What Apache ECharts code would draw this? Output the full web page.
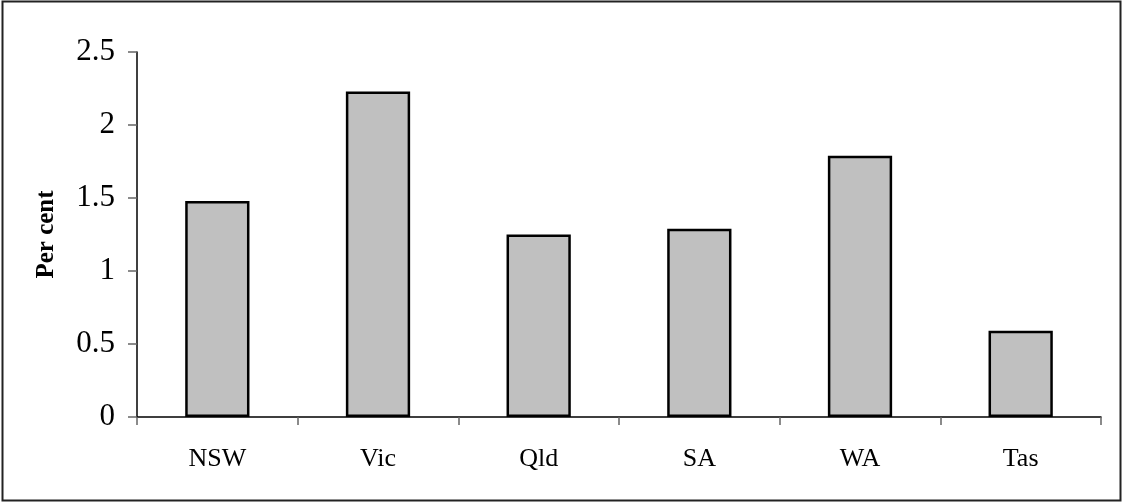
<!DOCTYPE html>
<html>
<head>
<meta charset="utf-8">
<script src="https://cdn.jsdelivr.net/npm/echarts@6/dist/echarts.min.js"></script>
<style>
  html, body { margin: 0; padding: 0; background: #fff; }
  #chart { width: 1122px; height: 502px; }
</style>
</head>
<body>
<div id="chart"></div>
<script>
// States and their per cent values
const states = ['NSW', 'Vic', 'Qld', 'SA', 'WA', 'Tas'];
const perCent = [1.48, 2.23, 1.25, 1.29, 1.79, 0.59];
const yTicks = { min: 0, max: 2.5, interval: 0.5 };

const serif = '"Liberation Serif", "Times New Roman", serif';
const chart = echarts.init(document.getElementById('chart'), null, { renderer: 'canvas' });

chart.setOption({
  animation: false,
  backgroundColor: '#ffffff',
  graphic: [{
    type: 'rect',
    silent: true,
    shape: { x: 2.5, y: 1.5, width: 1118, height: 499 },
    style: { fill: 'none', stroke: '#222', lineWidth: 2 }
  }],
  grid: { left: 137, right: 21, top: 52, bottom: 85 },
  xAxis: {
    type: 'category',
    data: states,
    axisLine: { lineStyle: { color: '#000', width: 1.5 } },
    axisTick: { show: true, length: 8, lineStyle: { color: '#666', width: 1.5 } },
    axisLabel: { color: '#000', fontFamily: serif, fontSize: 26, margin: 29 }
  },
  yAxis: {
    type: 'value',
    min: yTicks.min,
    max: yTicks.max,
    interval: yTicks.interval,
    name: 'Per cent',
    nameLocation: 'middle',
    nameGap: 78,
    nameRotate: 90,
    nameTextStyle: { color: '#000', fontFamily: serif, fontSize: 25, fontWeight: 'bold' },
    splitLine: { show: false },
    axisLine: { show: true, lineStyle: { color: '#000', width: 1.5 } },
    axisTick: { show: true, length: 9, lineStyle: { color: '#666', width: 1.5 } },
    axisLabel: { color: '#000', fontFamily: serif, fontSize: 31, margin: 22 }
  },
  series: [{
    type: 'bar',
    data: perCent,
    barWidth: '40%',
    itemStyle: { color: '#c0c0c0', borderColor: '#000', borderWidth: 2.5 }
  }]
});
</script>
</body>
</html>
